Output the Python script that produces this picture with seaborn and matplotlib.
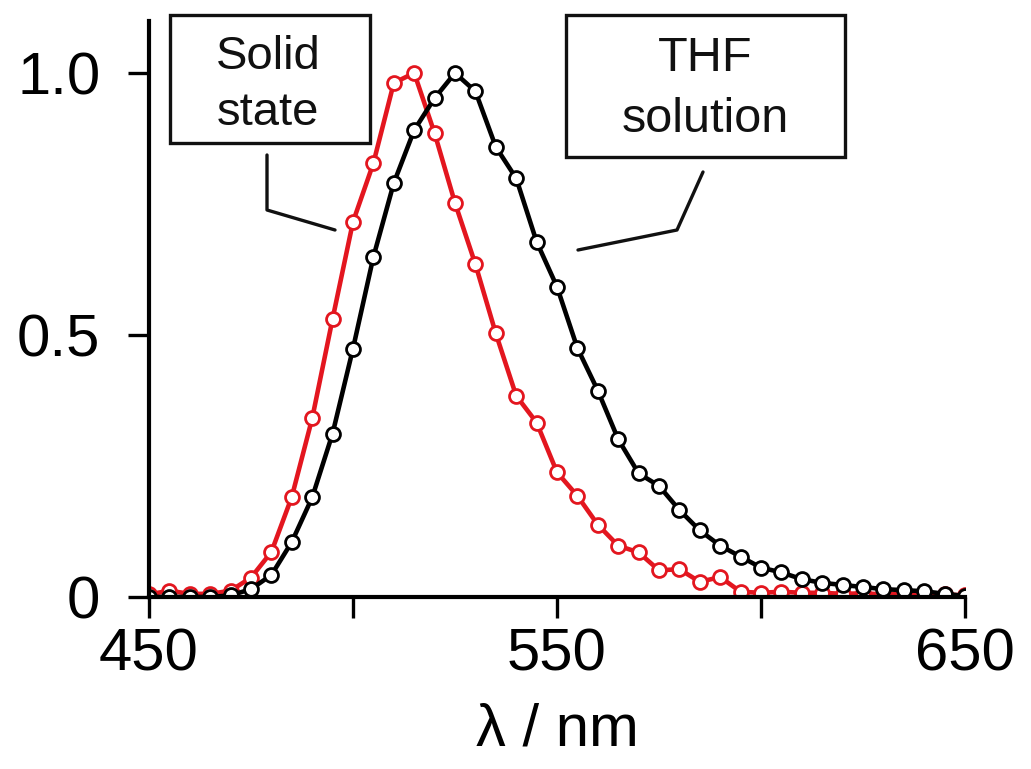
import matplotlib
matplotlib.use("Agg")
import matplotlib.pyplot as plt
from matplotlib.patches import Rectangle
from matplotlib.lines import Line2D
import seaborn as sns
import pandas as pd

# wavelength grid (nm) and normalised PL intensity
wavelength = list(range(450, 655, 5))

thf_solution = [0.0, 0.0, 0.0, 0.0, 0.003, 0.015, 0.042, 0.105, 0.19, 0.312,
                0.474, 0.649, 0.79, 0.891, 0.952, 1.0, 0.965, 0.859, 0.799, 0.678,
                0.592, 0.475, 0.394, 0.301, 0.236, 0.212, 0.166, 0.127, 0.098, 0.077,
                0.056, 0.047, 0.034, 0.027, 0.023, 0.019, 0.015, 0.013, 0.011, 0.006,
                0.002]

solid_state = [0.005, 0.012, 0.006, 0.006, 0.012, 0.037, 0.086, 0.191, 0.341, 0.531,
               0.716, 0.828, 0.981, 1.0, 0.885, 0.752, 0.635, 0.503, 0.384, 0.333,
               0.238, 0.193, 0.138, 0.098, 0.085, 0.051, 0.053, 0.029, 0.038, 0.010,
               0.008, 0.010, 0.008, 0.008, 0.006, 0.007, 0.005, 0.006, 0.005, 0.005,
               0.003]

xticks = [450, 500, 550, 600, 650]
xtick_labels = ["450", "", "550", "", "650"]
yticks = [0, 0.5, 1.0]
ytick_labels = ["0", "0.5", "1.0"]

RED = "#e3161f"

sns.set_style("ticks")
plt.rcParams["font.family"] = ["Liberation Sans", "DejaVu Sans"]
plt.rcParams["text.color"] = "black"
plt.rcParams["xtick.color"] = "black"
plt.rcParams["ytick.color"] = "black"
plt.rcParams["axes.edgecolor"] = "black"
plt.rcParams["axes.labelcolor"] = "black"

W, H = 1031, 769
fig = plt.figure(figsize=(W / 100, H / 100), dpi=100)
ax = fig.add_axes([149 / W, 1 - 597 / H, 816 / W, 576.4 / H])

df = pd.DataFrame({"wl": wavelength, "solid": solid_state, "thf": thf_solution})

common = dict(marker="o", markersize=10, markerfacecolor="white",
              markeredgewidth=2.0, linewidth=3.3)
sns.lineplot(data=df, x="wl", y="solid", color=RED, markeredgecolor=RED,
             ax=ax, **common)
sns.lineplot(data=df, x="wl", y="thf", color="black", markeredgecolor="black",
             ax=ax, **common)

ax.set_xlim(450, 650)
ax.set_ylim(0, 1.1)
ax.set_xticks(xticks)
ax.set_xticklabels(xtick_labels)
ax.set_yticks(yticks)
ax.set_yticklabels(ytick_labels)
ax.tick_params(axis="both", direction="out", length=15, width=2.4,
               labelsize=43)
ax.tick_params(axis="x", pad=7)
ax.tick_params(axis="y", pad=20)
sns.despine(ax=ax)
for s in ["left", "bottom"]:
    ax.spines[s].set_linewidth(3.0)
ax.set_xlabel("λ / nm", fontsize=43, labelpad=14)
ax.set_ylabel("")


# label boxes and leader lines, placed in figure pixel coords
def fp(px, py):
    return px / W, 1 - py / H


def box(x0, y0, x1, y1):
    (a, b), (c, d) = fp(x0, y1), fp(x1, y0)
    fig.add_artist(Rectangle((a, b), c - a, d - b, transform=fig.transFigure,
                             facecolor="white", edgecolor="#111111", linewidth=2.4))


def leader(pts):
    xs, ys = zip(*[fp(*p) for p in pts])
    fig.add_artist(Line2D(xs, ys, transform=fig.transFigure, color="#111111",
                          linewidth=2.4))


box(170, 15, 370, 143)
fig.text(*fp(268, 85), "Solid\nstate", ha="center", va="center", fontsize=34,
         linespacing=1.35, color="#111111")
leader([(267, 155), (267, 210), (335, 230)])

box(566, 15, 845, 157)
fig.text(*fp(705, 89), "THF\nsolution", ha="center", va="center", fontsize=35,
         linespacing=1.45, color="#111111")
leader([(703, 172), (677, 230), (578, 250)])

fig.savefig("out.png", dpi=100)
